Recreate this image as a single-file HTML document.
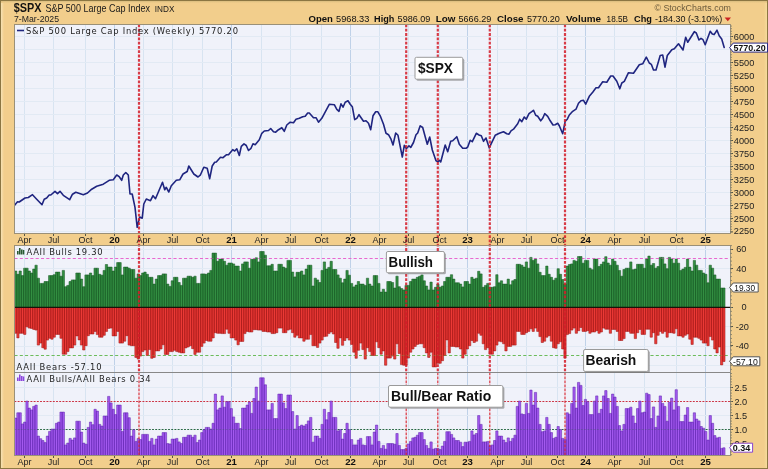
<!DOCTYPE html>
<html><head><meta charset="utf-8"><title>$SPX</title><style>html,body{margin:0;padding:0;background:#fff}body{width:768px;height:469px;overflow:hidden}</style></head><body>
<svg width="768" height="469" viewBox="0 0 768 469" style="display:block">
<defs>
<linearGradient id="bgl" x1="0" x2="1" y1="0" y2="0"><stop offset="0" stop-color="#f6e2b4"/><stop offset="1" stop-color="#f2ce8c"/></linearGradient>
<linearGradient id="bgr" x1="0" x2="1" y1="0" y2="0"><stop offset="0" stop-color="#f2ce8c"/><stop offset="1" stop-color="#f6dc9c"/></linearGradient>
<linearGradient id="bgt" x1="0" x2="0" y1="0" y2="1"><stop offset="0" stop-color="#d9bd7e"/><stop offset="1" stop-color="#f2ce8c"/></linearGradient>
<linearGradient id="plot" x1="0" x2="0" y1="0" y2="1"><stop offset="0" stop-color="#f4f4fc"/><stop offset="1" stop-color="#ecEEfa"/></linearGradient>
<filter id="sh" x="-10%" y="-10%" width="130%" height="140%"><feGaussianBlur stdDeviation="0.7"/></filter>
<clipPath id="c1"><rect x="14.5" y="24.5" width="716" height="209"/></clipPath>
<clipPath id="c2"><rect x="14.5" y="245.5" width="716" height="127"/></clipPath>
<clipPath id="c3"><rect x="14.5" y="372.5" width="716" height="83"/></clipPath>
</defs>
<rect x="0" y="0" width="768" height="469" fill="#f2ce8c"/>
<rect x="1" y="1" width="3" height="467" fill="url(#bgl)"/>
<rect x="764" y="1" width="3" height="467" fill="url(#bgr)"/>
<rect x="1" y="1" width="766" height="2" fill="url(#bgt)"/>
<rect x="0.5" y="0.5" width="767" height="468" fill="none" stroke="#8b7642" stroke-width="1"/>
<rect x="14.5" y="24.5" width="716.0" height="209.0" fill="#f0f2fa"/>
<rect x="14.5" y="245.5" width="716.0" height="210.0" fill="#f0f2fa"/>
<line x1="24.5" x2="24.5" y1="24.5" y2="233.5" stroke="#d8e4f1" stroke-width="1"/>
<line x1="53.5" x2="53.5" y1="24.5" y2="233.5" stroke="#d8e4f1" stroke-width="1"/>
<line x1="85.5" x2="85.5" y1="24.5" y2="233.5" stroke="#d8e4f1" stroke-width="1"/>
<line x1="114.5" x2="114.5" y1="24.5" y2="233.5" stroke="#bfd1e8" stroke-width="1"/>
<line x1="143.5" x2="143.5" y1="24.5" y2="233.5" stroke="#d8e4f1" stroke-width="1"/>
<line x1="172.5" x2="172.5" y1="24.5" y2="233.5" stroke="#d8e4f1" stroke-width="1"/>
<line x1="202.5" x2="202.5" y1="24.5" y2="233.5" stroke="#d8e4f1" stroke-width="1"/>
<line x1="231.5" x2="231.5" y1="24.5" y2="233.5" stroke="#bfd1e8" stroke-width="1"/>
<line x1="261.5" x2="261.5" y1="24.5" y2="233.5" stroke="#d8e4f1" stroke-width="1"/>
<line x1="290.5" x2="290.5" y1="24.5" y2="233.5" stroke="#d8e4f1" stroke-width="1"/>
<line x1="321.5" x2="321.5" y1="24.5" y2="233.5" stroke="#d8e4f1" stroke-width="1"/>
<line x1="350.5" x2="350.5" y1="24.5" y2="233.5" stroke="#bfd1e8" stroke-width="1"/>
<line x1="379.5" x2="379.5" y1="24.5" y2="233.5" stroke="#d8e4f1" stroke-width="1"/>
<line x1="408.5" x2="408.5" y1="24.5" y2="233.5" stroke="#d8e4f1" stroke-width="1"/>
<line x1="439.5" x2="439.5" y1="24.5" y2="233.5" stroke="#d8e4f1" stroke-width="1"/>
<line x1="467.5" x2="467.5" y1="24.5" y2="233.5" stroke="#bfd1e8" stroke-width="1"/>
<line x1="497.5" x2="497.5" y1="24.5" y2="233.5" stroke="#d8e4f1" stroke-width="1"/>
<line x1="526.5" x2="526.5" y1="24.5" y2="233.5" stroke="#d8e4f1" stroke-width="1"/>
<line x1="557.5" x2="557.5" y1="24.5" y2="233.5" stroke="#d8e4f1" stroke-width="1"/>
<line x1="585.5" x2="585.5" y1="24.5" y2="233.5" stroke="#bfd1e8" stroke-width="1"/>
<line x1="614.5" x2="614.5" y1="24.5" y2="233.5" stroke="#d8e4f1" stroke-width="1"/>
<line x1="644.5" x2="644.5" y1="24.5" y2="233.5" stroke="#d8e4f1" stroke-width="1"/>
<line x1="676.5" x2="676.5" y1="24.5" y2="233.5" stroke="#d8e4f1" stroke-width="1"/>
<line x1="705.5" x2="705.5" y1="24.5" y2="233.5" stroke="#bfd1e8" stroke-width="1"/>
<line x1="14.5" x2="730.5" y1="231.5" y2="231.5" stroke="#e2eaf4" stroke-width="1"/>
<line x1="14.5" x2="730.5" y1="218.5" y2="218.5" stroke="#e2eaf4" stroke-width="1"/>
<line x1="14.5" x2="730.5" y1="205.5" y2="205.5" stroke="#e2eaf4" stroke-width="1"/>
<line x1="14.5" x2="730.5" y1="192.5" y2="192.5" stroke="#e2eaf4" stroke-width="1"/>
<line x1="14.5" x2="730.5" y1="179.5" y2="179.5" stroke="#e2eaf4" stroke-width="1"/>
<line x1="14.5" x2="730.5" y1="166.5" y2="166.5" stroke="#e2eaf4" stroke-width="1"/>
<line x1="14.5" x2="730.5" y1="153.5" y2="153.5" stroke="#e2eaf4" stroke-width="1"/>
<line x1="14.5" x2="730.5" y1="140.5" y2="140.5" stroke="#e2eaf4" stroke-width="1"/>
<line x1="14.5" x2="730.5" y1="127.5" y2="127.5" stroke="#e2eaf4" stroke-width="1"/>
<line x1="14.5" x2="730.5" y1="114.5" y2="114.5" stroke="#e2eaf4" stroke-width="1"/>
<line x1="14.5" x2="730.5" y1="101.5" y2="101.5" stroke="#e2eaf4" stroke-width="1"/>
<line x1="14.5" x2="730.5" y1="88.5" y2="88.5" stroke="#e2eaf4" stroke-width="1"/>
<line x1="14.5" x2="730.5" y1="75.5" y2="75.5" stroke="#e2eaf4" stroke-width="1"/>
<line x1="14.5" x2="730.5" y1="62.5" y2="62.5" stroke="#e2eaf4" stroke-width="1"/>
<line x1="14.5" x2="730.5" y1="49.5" y2="49.5" stroke="#e2eaf4" stroke-width="1"/>
<line x1="14.5" x2="730.5" y1="36.5" y2="36.5" stroke="#e2eaf4" stroke-width="1"/>
<line x1="24.5" x2="24.5" y1="245.5" y2="372.5" stroke="#d8e4f1" stroke-width="1"/>
<line x1="53.5" x2="53.5" y1="245.5" y2="372.5" stroke="#d8e4f1" stroke-width="1"/>
<line x1="85.5" x2="85.5" y1="245.5" y2="372.5" stroke="#d8e4f1" stroke-width="1"/>
<line x1="114.5" x2="114.5" y1="245.5" y2="372.5" stroke="#bfd1e8" stroke-width="1"/>
<line x1="143.5" x2="143.5" y1="245.5" y2="372.5" stroke="#d8e4f1" stroke-width="1"/>
<line x1="172.5" x2="172.5" y1="245.5" y2="372.5" stroke="#d8e4f1" stroke-width="1"/>
<line x1="202.5" x2="202.5" y1="245.5" y2="372.5" stroke="#d8e4f1" stroke-width="1"/>
<line x1="231.5" x2="231.5" y1="245.5" y2="372.5" stroke="#bfd1e8" stroke-width="1"/>
<line x1="261.5" x2="261.5" y1="245.5" y2="372.5" stroke="#d8e4f1" stroke-width="1"/>
<line x1="290.5" x2="290.5" y1="245.5" y2="372.5" stroke="#d8e4f1" stroke-width="1"/>
<line x1="321.5" x2="321.5" y1="245.5" y2="372.5" stroke="#d8e4f1" stroke-width="1"/>
<line x1="350.5" x2="350.5" y1="245.5" y2="372.5" stroke="#bfd1e8" stroke-width="1"/>
<line x1="379.5" x2="379.5" y1="245.5" y2="372.5" stroke="#d8e4f1" stroke-width="1"/>
<line x1="408.5" x2="408.5" y1="245.5" y2="372.5" stroke="#d8e4f1" stroke-width="1"/>
<line x1="439.5" x2="439.5" y1="245.5" y2="372.5" stroke="#d8e4f1" stroke-width="1"/>
<line x1="467.5" x2="467.5" y1="245.5" y2="372.5" stroke="#bfd1e8" stroke-width="1"/>
<line x1="497.5" x2="497.5" y1="245.5" y2="372.5" stroke="#d8e4f1" stroke-width="1"/>
<line x1="526.5" x2="526.5" y1="245.5" y2="372.5" stroke="#d8e4f1" stroke-width="1"/>
<line x1="557.5" x2="557.5" y1="245.5" y2="372.5" stroke="#d8e4f1" stroke-width="1"/>
<line x1="585.5" x2="585.5" y1="245.5" y2="372.5" stroke="#bfd1e8" stroke-width="1"/>
<line x1="614.5" x2="614.5" y1="245.5" y2="372.5" stroke="#d8e4f1" stroke-width="1"/>
<line x1="644.5" x2="644.5" y1="245.5" y2="372.5" stroke="#d8e4f1" stroke-width="1"/>
<line x1="676.5" x2="676.5" y1="245.5" y2="372.5" stroke="#d8e4f1" stroke-width="1"/>
<line x1="705.5" x2="705.5" y1="245.5" y2="372.5" stroke="#bfd1e8" stroke-width="1"/>
<line x1="14.5" x2="730.5" y1="249.5" y2="249.5" stroke="#e2eaf4" stroke-width="1"/>
<line x1="14.5" x2="730.5" y1="268.5" y2="268.5" stroke="#e2eaf4" stroke-width="1"/>
<line x1="14.5" x2="730.5" y1="288.5" y2="288.5" stroke="#e2eaf4" stroke-width="1"/>
<line x1="14.5" x2="730.5" y1="326.5" y2="326.5" stroke="#e2eaf4" stroke-width="1"/>
<line x1="14.5" x2="730.5" y1="346.5" y2="346.5" stroke="#e2eaf4" stroke-width="1"/>
<line x1="14.5" x2="730.5" y1="365.5" y2="365.5" stroke="#e2eaf4" stroke-width="1"/>
<line x1="24.5" x2="24.5" y1="372.5" y2="455.5" stroke="#d8e4f1" stroke-width="1"/>
<line x1="53.5" x2="53.5" y1="372.5" y2="455.5" stroke="#d8e4f1" stroke-width="1"/>
<line x1="85.5" x2="85.5" y1="372.5" y2="455.5" stroke="#d8e4f1" stroke-width="1"/>
<line x1="114.5" x2="114.5" y1="372.5" y2="455.5" stroke="#bfd1e8" stroke-width="1"/>
<line x1="143.5" x2="143.5" y1="372.5" y2="455.5" stroke="#d8e4f1" stroke-width="1"/>
<line x1="172.5" x2="172.5" y1="372.5" y2="455.5" stroke="#d8e4f1" stroke-width="1"/>
<line x1="202.5" x2="202.5" y1="372.5" y2="455.5" stroke="#d8e4f1" stroke-width="1"/>
<line x1="231.5" x2="231.5" y1="372.5" y2="455.5" stroke="#bfd1e8" stroke-width="1"/>
<line x1="261.5" x2="261.5" y1="372.5" y2="455.5" stroke="#d8e4f1" stroke-width="1"/>
<line x1="290.5" x2="290.5" y1="372.5" y2="455.5" stroke="#d8e4f1" stroke-width="1"/>
<line x1="321.5" x2="321.5" y1="372.5" y2="455.5" stroke="#d8e4f1" stroke-width="1"/>
<line x1="350.5" x2="350.5" y1="372.5" y2="455.5" stroke="#bfd1e8" stroke-width="1"/>
<line x1="379.5" x2="379.5" y1="372.5" y2="455.5" stroke="#d8e4f1" stroke-width="1"/>
<line x1="408.5" x2="408.5" y1="372.5" y2="455.5" stroke="#d8e4f1" stroke-width="1"/>
<line x1="439.5" x2="439.5" y1="372.5" y2="455.5" stroke="#d8e4f1" stroke-width="1"/>
<line x1="467.5" x2="467.5" y1="372.5" y2="455.5" stroke="#bfd1e8" stroke-width="1"/>
<line x1="497.5" x2="497.5" y1="372.5" y2="455.5" stroke="#d8e4f1" stroke-width="1"/>
<line x1="526.5" x2="526.5" y1="372.5" y2="455.5" stroke="#d8e4f1" stroke-width="1"/>
<line x1="557.5" x2="557.5" y1="372.5" y2="455.5" stroke="#d8e4f1" stroke-width="1"/>
<line x1="585.5" x2="585.5" y1="372.5" y2="455.5" stroke="#bfd1e8" stroke-width="1"/>
<line x1="614.5" x2="614.5" y1="372.5" y2="455.5" stroke="#d8e4f1" stroke-width="1"/>
<line x1="644.5" x2="644.5" y1="372.5" y2="455.5" stroke="#d8e4f1" stroke-width="1"/>
<line x1="676.5" x2="676.5" y1="372.5" y2="455.5" stroke="#d8e4f1" stroke-width="1"/>
<line x1="705.5" x2="705.5" y1="372.5" y2="455.5" stroke="#bfd1e8" stroke-width="1"/>
<line x1="14.5" x2="730.5" y1="443.5" y2="443.5" stroke="#e2eaf4" stroke-width="1"/>
<line x1="14.5" x2="730.5" y1="415.5" y2="415.5" stroke="#e2eaf4" stroke-width="1"/>
<line x1="14.5" x2="730.5" y1="387.5" y2="387.5" stroke="#e2eaf4" stroke-width="1"/>
<line x1="14.5" x2="730.5" y1="258.5" y2="258.5" stroke="#e868d0" stroke-width="1" stroke-dasharray="3 2.3"/>
<line x1="14.5" x2="730.5" y1="355.5" y2="355.5" stroke="#6cbc5c" stroke-width="1" stroke-dasharray="3 2.3"/>
<line x1="14.5" x2="730.5" y1="401.5" y2="401.5" stroke="#cc3040" stroke-width="1" stroke-dasharray="1.8 1.4"/>
<line x1="14.5" x2="730.5" y1="429.5" y2="429.5" stroke="#2a6a44" stroke-width="1" stroke-dasharray="1.8 1.4"/>
<path d="M14.52 307.2V271.0h2.27V307.2M16.79 307.2V274.3h2.27V307.2M19.06 307.2V271.0h2.27V307.2M21.34 307.2V275.6h2.27V307.2M23.61 307.2V268.2h2.27V307.2M25.87 307.2V268.2h2.27V307.2M28.14 307.2V271.0h2.27V307.2M30.41 307.2V273.0h2.27V307.2M32.68 307.2V269.1h2.27V307.2M34.95 307.2V265.2h2.27V307.2M37.23 307.2V278.2h2.27V307.2M39.49 307.2V283.4h2.27V307.2M41.76 307.2V283.4h2.27V307.2M44.03 307.2V281.5h2.27V307.2M46.30 307.2V281.5h2.27V307.2M48.57 307.2V275.6h2.27V307.2M50.85 307.2V275.6h2.27V307.2M53.12 307.2V274.7h2.27V307.2M55.38 307.2V272.1h2.27V307.2M57.65 307.2V272.1h2.27V307.2M59.92 307.2V276.2h2.27V307.2M62.19 307.2V270.4h2.27V307.2M64.47 307.2V286.7h2.27V307.2M66.73 307.2V285.4h2.27V307.2M69.00 307.2V281.5h2.27V307.2M71.27 307.2V279.9h2.27V307.2M73.54 307.2V279.9h2.27V307.2M75.81 307.2V273.0h2.27V307.2M78.09 307.2V273.0h2.27V307.2M80.36 307.2V279.1h2.27V307.2M82.62 307.2V286.7h2.27V307.2M84.89 307.2V274.9h2.27V307.2M87.16 307.2V274.9h2.27V307.2M89.43 307.2V273.0h2.27V307.2M91.70 307.2V275.6h2.27V307.2M93.98 307.2V268.2h2.27V307.2M96.24 307.2V268.2h2.27V307.2M98.51 307.2V274.3h2.27V307.2M100.78 307.2V275.2h2.27V307.2M103.05 307.2V270.4h2.27V307.2M105.32 307.2V264.5h2.27V307.2M107.60 307.2V267.1h2.27V307.2M109.86 307.2V267.1h2.27V307.2M112.13 307.2V271.0h2.27V307.2M114.40 307.2V267.1h2.27V307.2M116.67 307.2V262.6h2.27V307.2M118.94 307.2V262.6h2.27V307.2M121.22 307.2V274.9h2.27V307.2M123.48 307.2V267.1h2.27V307.2M125.75 307.2V267.1h2.27V307.2M128.02 307.2V268.2h2.27V307.2M130.29 307.2V269.5h2.27V307.2M132.56 307.2V269.5h2.27V307.2M134.84 307.2V278.2h2.27V307.2M137.11 307.2V273.9h2.27V307.2M139.38 307.2V275.6h2.27V307.2M141.64 307.2V273.0h2.27V307.2M143.91 307.2V272.1h2.27V307.2M146.18 307.2V274.3h2.27V307.2M148.45 307.2V277.3h2.27V307.2M150.73 307.2V277.3h2.27V307.2M153.00 307.2V284.1h2.27V307.2M155.26 307.2V279.1h2.27V307.2M157.53 307.2V275.6h2.27V307.2M159.80 307.2V275.6h2.27V307.2M162.07 307.2V273.9h2.27V307.2M164.35 307.2V273.9h2.27V307.2M166.62 307.2V284.1h2.27V307.2M168.88 307.2V286.4h2.27V307.2M171.15 307.2V280.8h2.27V307.2M173.42 307.2V277.3h2.27V307.2M175.69 307.2V277.3h2.27V307.2M177.97 307.2V282.5h2.27V307.2M180.24 307.2V285.4h2.27V307.2M182.50 307.2V278.2h2.27V307.2M184.77 307.2V278.2h2.27V307.2M187.04 307.2V276.2h2.27V307.2M189.31 307.2V276.2h2.27V307.2M191.59 307.2V277.3h2.27V307.2M193.86 307.2V276.2h2.27V307.2M196.12 307.2V283.4h2.27V307.2M198.39 307.2V283.4h2.27V307.2M200.66 307.2V273.9h2.27V307.2M202.93 307.2V273.9h2.27V307.2M205.20 307.2V274.3h2.27V307.2M207.48 307.2V273.0h2.27V307.2M209.75 307.2V270.4h2.27V307.2M212.01 307.2V253.1h2.27V307.2M214.28 307.2V253.1h2.27V307.2M216.56 307.2V261.3h2.27V307.2M218.82 307.2V259.1h2.27V307.2M221.09 307.2V259.1h2.27V307.2M223.37 307.2V261.3h2.27V307.2M225.63 307.2V265.2h2.27V307.2M227.90 307.2V263.0h2.27V307.2M230.17 307.2V263.0h2.27V307.2M232.44 307.2V263.9h2.27V307.2M234.71 307.2V266.1h2.27V307.2M236.98 307.2V266.1h2.27V307.2M239.25 307.2V271.0h2.27V307.2M241.52 307.2V263.9h2.27V307.2M243.79 307.2V261.9h2.27V307.2M246.06 307.2V261.9h2.27V307.2M248.33 307.2V268.2h2.27V307.2M250.60 307.2V259.3h2.27V307.2M252.88 307.2V259.3h2.27V307.2M255.14 307.2V257.8h2.27V307.2M257.41 307.2V261.9h2.27V307.2M259.69 307.2V251.5h2.27V307.2M261.95 307.2V251.5h2.27V307.2M264.22 307.2V255.2h2.27V307.2M266.50 307.2V265.8h2.27V307.2M268.76 307.2V265.8h2.27V307.2M271.03 307.2V264.3h2.27V307.2M273.31 307.2V271.0h2.27V307.2M275.57 307.2V271.0h2.27V307.2M277.84 307.2V264.3h2.27V307.2M280.12 307.2V264.3h2.27V307.2M282.38 307.2V267.1h2.27V307.2M284.65 307.2V268.2h2.27V307.2M286.92 307.2V260.4h2.27V307.2M289.19 307.2V260.4h2.27V307.2M291.46 307.2V272.1h2.27V307.2M293.73 307.2V276.9h2.27V307.2M296.00 307.2V272.3h2.27V307.2M298.27 307.2V272.3h2.27V307.2M300.54 307.2V271.0h2.27V307.2M302.81 307.2V274.9h2.27V307.2M305.08 307.2V269.1h2.27V307.2M307.35 307.2V265.2h2.27V307.2M309.62 307.2V265.2h2.27V307.2M311.89 307.2V286.0h2.27V307.2M314.16 307.2V278.2h2.27V307.2M316.44 307.2V279.9h2.27V307.2M318.70 307.2V282.5h2.27V307.2M320.97 307.2V270.4h2.27V307.2M323.25 307.2V261.9h2.27V307.2M325.51 307.2V269.1h2.27V307.2M327.78 307.2V267.4h2.27V307.2M330.06 307.2V261.3h2.27V307.2M332.32 307.2V269.5h2.27V307.2M334.59 307.2V269.5h2.27V307.2M336.87 307.2V274.9h2.27V307.2M339.13 307.2V278.2h2.27V307.2M341.40 307.2V282.8h2.27V307.2M343.68 307.2V279.1h2.27V307.2M345.94 307.2V270.4h2.27V307.2M348.21 307.2V275.2h2.27V307.2M350.48 307.2V283.4h2.27V307.2M352.75 307.2V286.9h2.27V307.2M355.02 307.2V285.1h2.27V307.2M357.29 307.2V281.5h2.27V307.2M359.56 307.2V284.1h2.27V307.2M361.83 307.2V284.1h2.27V307.2M364.10 307.2V285.4h2.27V307.2M366.38 307.2V278.2h2.27V307.2M368.64 307.2V284.1h2.27V307.2M370.91 307.2V286.0h2.27V307.2M373.19 307.2V275.6h2.27V307.2M375.45 307.2V275.6h2.27V307.2M377.72 307.2V283.4h2.27V307.2M380.00 307.2V292.1h2.27V307.2M382.26 307.2V289.3h2.27V307.2M384.53 307.2V292.1h2.27V307.2M386.81 307.2V281.5h2.27V307.2M389.07 307.2V281.5h2.27V307.2M391.34 307.2V282.5h2.27V307.2M393.62 307.2V288.0h2.27V307.2M395.88 307.2V276.2h2.27V307.2M398.15 307.2V286.7h2.27V307.2M400.43 307.2V288.6h2.27V307.2M402.69 307.2V289.9h2.27V307.2M404.96 307.2V285.4h2.27V307.2M407.23 307.2V285.4h2.27V307.2M409.50 307.2V281.5h2.27V307.2M411.77 307.2V279.1h2.27V307.2M414.04 307.2V279.1h2.27V307.2M416.31 307.2V277.3h2.27V307.2M418.58 307.2V276.2h2.27V307.2M420.85 307.2V274.9h2.27V307.2M423.12 307.2V280.8h2.27V307.2M425.39 307.2V286.0h2.27V307.2M427.66 307.2V289.9h2.27V307.2M429.94 307.2V282.1h2.27V307.2M432.20 307.2V289.9h2.27V307.2M434.47 307.2V287.3h2.27V307.2M436.75 307.2V284.1h2.27V307.2M439.01 307.2V287.3h2.27V307.2M441.28 307.2V286.0h2.27V307.2M443.56 307.2V281.5h2.27V307.2M445.82 307.2V277.3h2.27V307.2M448.09 307.2V277.3h2.27V307.2M450.37 307.2V274.7h2.27V307.2M452.63 307.2V279.1h2.27V307.2M454.90 307.2V282.8h2.27V307.2M457.18 307.2V282.8h2.27V307.2M459.44 307.2V284.1h2.27V307.2M461.71 307.2V286.9h2.27V307.2M463.98 307.2V281.5h2.27V307.2M466.25 307.2V281.5h2.27V307.2M468.52 307.2V284.1h2.27V307.2M470.79 307.2V277.3h2.27V307.2M473.06 307.2V279.1h2.27V307.2M475.33 307.2V278.2h2.27V307.2M477.61 307.2V271.3h2.27V307.2M479.88 307.2V273.9h2.27V307.2M482.14 307.2V287.3h2.27V307.2M484.41 307.2V285.4h2.27V307.2M486.68 307.2V283.4h2.27V307.2M488.95 307.2V287.3h2.27V307.2M491.23 307.2V287.3h2.27V307.2M493.50 307.2V286.7h2.27V307.2M495.76 307.2V274.7h2.27V307.2M498.03 307.2V282.8h2.27V307.2M500.30 307.2V280.8h2.27V307.2M502.57 307.2V284.1h2.27V307.2M504.84 307.2V284.1h2.27V307.2M507.12 307.2V279.1h2.27V307.2M509.38 307.2V284.7h2.27V307.2M511.65 307.2V280.8h2.27V307.2M513.92 307.2V279.5h2.27V307.2M516.19 307.2V264.3h2.27V307.2M518.46 307.2V264.3h2.27V307.2M520.74 307.2V265.2h2.27V307.2M523.00 307.2V267.1h2.27V307.2M525.27 307.2V261.9h2.27V307.2M527.54 307.2V268.2h2.27V307.2M529.82 307.2V257.4h2.27V307.2M532.09 307.2V260.4h2.27V307.2M534.36 307.2V259.1h2.27V307.2M536.62 307.2V263.9h2.27V307.2M538.89 307.2V272.3h2.27V307.2M541.16 307.2V275.6h2.27V307.2M543.43 307.2V275.6h2.27V307.2M545.70 307.2V266.1h2.27V307.2M547.98 307.2V274.3h2.27V307.2M550.25 307.2V277.3h2.27V307.2M552.51 307.2V280.2h2.27V307.2M554.78 307.2V278.2h2.27V307.2M557.05 307.2V268.7h2.27V307.2M559.33 307.2V274.3h2.27V307.2M561.60 307.2V279.5h2.27V307.2M563.87 307.2V284.1h2.27V307.2M566.13 307.2V266.1h2.27V307.2M568.40 307.2V264.5h2.27V307.2M570.67 307.2V263.9h2.27V307.2M572.94 307.2V260.4h2.27V307.2M575.21 307.2V261.3h2.27V307.2M577.49 307.2V256.5h2.27V307.2M579.75 307.2V256.5h2.27V307.2M582.02 307.2V263.2h2.27V307.2M584.29 307.2V260.4h2.27V307.2M586.57 307.2V260.4h2.27V307.2M588.84 307.2V268.2h2.27V307.2M591.11 307.2V269.7h2.27V307.2M593.38 307.2V259.1h2.27V307.2M595.64 307.2V259.1h2.27V307.2M597.91 307.2V266.5h2.27V307.2M600.18 307.2V264.3h2.27V307.2M602.45 307.2V261.9h2.27V307.2M604.73 307.2V256.7h2.27V307.2M607.00 307.2V263.0h2.27V307.2M609.26 307.2V265.2h2.27V307.2M611.53 307.2V259.1h2.27V307.2M613.80 307.2V261.3h2.27V307.2M616.08 307.2V265.2h2.27V307.2M618.35 307.2V270.4h2.27V307.2M620.62 307.2V276.2h2.27V307.2M622.88 307.2V269.5h2.27V307.2M625.15 307.2V268.2h2.27V307.2M627.42 307.2V268.2h2.27V307.2M629.69 307.2V261.9h2.27V307.2M631.97 307.2V269.7h2.27V307.2M634.24 307.2V269.1h2.27V307.2M636.50 307.2V264.3h2.27V307.2M638.77 307.2V264.3h2.27V307.2M641.04 307.2V264.3h2.27V307.2M643.31 307.2V268.2h2.27V307.2M645.59 307.2V259.1h2.27V307.2M647.86 307.2V256.1h2.27V307.2M650.12 307.2V265.2h2.27V307.2M652.39 307.2V263.5h2.27V307.2M654.66 307.2V268.2h2.27V307.2M656.93 307.2V266.5h2.27V307.2M659.20 307.2V257.4h2.27V307.2M661.48 307.2V257.4h2.27V307.2M663.75 307.2V263.9h2.27V307.2M666.01 307.2V268.7h2.27V307.2M668.28 307.2V257.4h2.27V307.2M670.55 307.2V259.1h2.27V307.2M672.83 307.2V263.2h2.27V307.2M675.10 307.2V259.1h2.27V307.2M677.37 307.2V263.2h2.27V307.2M679.63 307.2V270.4h2.27V307.2M681.90 307.2V269.1h2.27V307.2M684.17 307.2V267.4h2.27V307.2M686.44 307.2V259.1h2.27V307.2M688.72 307.2V267.1h2.27V307.2M690.99 307.2V271.0h2.27V307.2M693.25 307.2V260.4h2.27V307.2M695.52 307.2V265.2h2.27V307.2M697.79 307.2V270.4h2.27V307.2M700.06 307.2V270.4h2.27V307.2M702.34 307.2V273.0h2.27V307.2M704.61 307.2V274.3h2.27V307.2M706.88 307.2V282.8h2.27V307.2M709.14 307.2V265.2h2.27V307.2M711.41 307.2V268.2h2.27V307.2M713.68 307.2V274.9h2.27V307.2M715.96 307.2V279.1h2.27V307.2M718.23 307.2V279.1h2.27V307.2M720.50 307.2V288.0h2.27V307.2M722.76 307.2V288.0h2.27V307.2" fill="#338f42" stroke="#185a24" stroke-width="0.55" clip-path="url(#c2)"/>
<path d="M14.52 307.6V333.3h2.27V307.6M16.79 307.6V337.9h2.27V307.6M19.06 307.6V333.3h2.27V307.6M21.34 307.6V333.3h2.27V307.6M23.61 307.6V334.4h2.27V307.6M25.87 307.6V326.8h2.27V307.6M28.14 307.6V328.1h2.27V307.6M30.41 307.6V328.4h2.27V307.6M32.68 307.6V329.4h2.27V307.6M34.95 307.6V330.1h2.27V307.6M37.23 307.6V345.1h2.27V307.6M39.49 307.6V343.1h2.27V307.6M41.76 307.6V347.7h2.27V307.6M44.03 307.6V349.2h2.27V307.6M46.30 307.6V340.1h2.27V307.6M48.57 307.6V338.3h2.27V307.6M50.85 307.6V339.2h2.27V307.6M53.12 307.6V337.2h2.27V307.6M55.38 307.6V334.4h2.27V307.6M57.65 307.6V334.4h2.27V307.6M59.92 307.6V338.3h2.27V307.6M62.19 307.6V354.2h2.27V307.6M64.47 307.6V354.2h2.27V307.6M66.73 307.6V351.6h2.27V307.6M69.00 307.6V347.9h2.27V307.6M71.27 307.6V347.9h2.27V307.6M73.54 307.6V345.1h2.27V307.6M75.81 307.6V335.9h2.27V307.6M78.09 307.6V339.9h2.27V307.6M80.36 307.6V345.1h2.27V307.6M82.62 307.6V350.0h2.27V307.6M84.89 307.6V345.7h2.27V307.6M87.16 307.6V335.7h2.27V307.6M89.43 307.6V334.0h2.27V307.6M91.70 307.6V334.0h2.27V307.6M93.98 307.6V331.4h2.27V307.6M96.24 307.6V334.6h2.27V307.6M98.51 307.6V337.2h2.27V307.6M100.78 307.6V337.2h2.27V307.6M103.05 307.6V335.3h2.27V307.6M105.32 307.6V331.4h2.27V307.6M107.60 307.6V328.4h2.27V307.6M109.86 307.6V328.1h2.27V307.6M112.13 307.6V335.9h2.27V307.6M114.40 307.6V335.9h2.27V307.6M116.67 307.6V331.4h2.27V307.6M118.94 307.6V343.1h2.27V307.6M121.22 307.6V343.1h2.27V307.6M123.48 307.6V341.2h2.27V307.6M125.75 307.6V335.7h2.27V307.6M128.02 307.6V345.1h2.27V307.6M130.29 307.6V345.7h2.27V307.6M132.56 307.6V345.7h2.27V307.6M134.84 307.6V357.4h2.27V307.6M137.11 307.6V359.1h2.27V307.6M139.38 307.6V356.1h2.27V307.6M141.64 307.6V351.6h2.27V307.6M143.91 307.6V350.0h2.27V307.6M146.18 307.6V355.5h2.27V307.6M148.45 307.6V349.6h2.27V307.6M150.73 307.6V358.3h2.27V307.6M153.00 307.6V357.4h2.27V307.6M155.26 307.6V350.9h2.27V307.6M157.53 307.6V350.9h2.27V307.6M159.80 307.6V349.0h2.27V307.6M162.07 307.6V344.8h2.27V307.6M164.35 307.6V354.4h2.27V307.6M166.62 307.6V354.4h2.27V307.6M168.88 307.6V351.6h2.27V307.6M171.15 307.6V351.6h2.27V307.6M173.42 307.6V350.3h2.27V307.6M175.69 307.6V351.6h2.27V307.6M177.97 307.6V352.2h2.27V307.6M180.24 307.6V352.9h2.27V307.6M182.50 307.6V352.9h2.27V307.6M184.77 307.6V347.9h2.27V307.6M187.04 307.6V347.0h2.27V307.6M189.31 307.6V345.7h2.27V307.6M191.59 307.6V348.7h2.27V307.6M193.86 307.6V354.4h2.27V307.6M196.12 307.6V352.2h2.27V307.6M198.39 307.6V352.2h2.27V307.6M200.66 307.6V346.4h2.27V307.6M202.93 307.6V343.1h2.27V307.6M205.20 307.6V340.5h2.27V307.6M207.48 307.6V341.2h2.27V307.6M209.75 307.6V341.2h2.27V307.6M212.01 307.6V337.9h2.27V307.6M214.28 307.6V332.7h2.27V307.6M216.56 307.6V333.3h2.27V307.6M218.82 307.6V333.3h2.27V307.6M221.09 307.6V333.6h2.27V307.6M223.37 307.6V333.6h2.27V307.6M225.63 307.6V329.2h2.27V307.6M227.90 307.6V333.3h2.27V307.6M230.17 307.6V337.9h2.27V307.6M232.44 307.6V337.9h2.27V307.6M234.71 307.6V340.1h2.27V307.6M236.98 307.6V344.8h2.27V307.6M239.25 307.6V341.4h2.27V307.6M241.52 307.6V341.4h2.27V307.6M243.79 307.6V333.6h2.27V307.6M246.06 307.6V331.4h2.27V307.6M248.33 307.6V332.0h2.27V307.6M250.60 307.6V332.0h2.27V307.6M252.88 307.6V329.7h2.27V307.6M255.14 307.6V329.7h2.27V307.6M257.41 307.6V330.1h2.27V307.6M259.69 307.6V330.1h2.27V307.6M261.95 307.6V331.4h2.27V307.6M264.22 307.6V331.4h2.27V307.6M266.50 307.6V332.0h2.27V307.6M268.76 307.6V332.0h2.27V307.6M271.03 307.6V333.6h2.27V307.6M273.31 307.6V333.6h2.27V307.6M275.57 307.6V332.7h2.27V307.6M277.84 307.6V328.1h2.27V307.6M280.12 307.6V328.1h2.27V307.6M282.38 307.6V332.7h2.27V307.6M284.65 307.6V332.7h2.27V307.6M286.92 307.6V330.1h2.27V307.6M289.19 307.6V329.2h2.27V307.6M291.46 307.6V332.7h2.27V307.6M293.73 307.6V337.2h2.27V307.6M296.00 307.6V335.3h2.27V307.6M298.27 307.6V337.9h2.27V307.6M300.54 307.6V337.9h2.27V307.6M302.81 307.6V341.2h2.27V307.6M305.08 307.6V339.2h2.27V307.6M307.35 307.6V339.2h2.27V307.6M309.62 307.6V334.6h2.27V307.6M311.89 307.6V345.7h2.27V307.6M314.16 307.6V345.7h2.27V307.6M316.44 307.6V347.4h2.27V307.6M318.70 307.6V343.1h2.27V307.6M320.97 307.6V340.1h2.27V307.6M323.25 307.6V336.6h2.27V307.6M325.51 307.6V336.2h2.27V307.6M327.78 307.6V333.6h2.27V307.6M330.06 307.6V332.0h2.27V307.6M332.32 307.6V334.0h2.27V307.6M334.59 307.6V342.5h2.27V307.6M336.87 307.6V348.3h2.27V307.6M339.13 307.6V337.9h2.27V307.6M341.40 307.6V345.3h2.27V307.6M343.68 307.6V340.5h2.27V307.6M345.94 307.6V337.9h2.27V307.6M348.21 307.6V340.1h2.27V307.6M350.48 307.6V344.4h2.27V307.6M352.75 307.6V352.2h2.27V307.6M355.02 307.6V358.3h2.27V307.6M357.29 307.6V350.3h2.27V307.6M359.56 307.6V343.1h2.27V307.6M361.83 307.6V349.6h2.27V307.6M364.10 307.6V359.1h2.27V307.6M366.38 307.6V347.7h2.27V307.6M368.64 307.6V351.6h2.27V307.6M370.91 307.6V355.5h2.27V307.6M373.19 307.6V355.5h2.27V307.6M375.45 307.6V341.8h2.27V307.6M377.72 307.6V347.7h2.27V307.6M380.00 307.6V354.2h2.27V307.6M382.26 307.6V350.9h2.27V307.6M384.53 307.6V365.2h2.27V307.6M386.81 307.6V358.1h2.27V307.6M389.07 307.6V358.1h2.27V307.6M391.34 307.6V356.1h2.27V307.6M393.62 307.6V359.1h2.27V307.6M395.88 307.6V343.8h2.27V307.6M398.15 307.6V353.5h2.27V307.6M400.43 307.6V364.6h2.27V307.6M402.69 307.6V365.2h2.27V307.6M404.96 307.6V365.2h2.27V307.6M407.23 307.6V358.1h2.27V307.6M409.50 307.6V352.2h2.27V307.6M411.77 307.6V349.0h2.27V307.6M414.04 307.6V346.4h2.27V307.6M416.31 307.6V344.4h2.27V307.6M418.58 307.6V343.8h2.27V307.6M420.85 307.6V343.8h2.27V307.6M423.12 307.6V347.7h2.27V307.6M425.39 307.6V352.9h2.27V307.6M427.66 307.6V357.4h2.27V307.6M429.94 307.6V352.2h2.27V307.6M432.20 307.6V366.9h2.27V307.6M434.47 307.6V366.9h2.27V307.6M436.75 307.6V363.3h2.27V307.6M439.01 307.6V363.3h2.27V307.6M441.28 307.6V360.7h2.27V307.6M443.56 307.6V355.5h2.27V307.6M445.82 307.6V339.9h2.27V307.6M448.09 307.6V352.9h2.27V307.6M450.37 307.6V346.4h2.27V307.6M452.63 307.6V346.4h2.27V307.6M454.90 307.6V347.0h2.27V307.6M457.18 307.6V347.0h2.27V307.6M459.44 307.6V349.0h2.27V307.6M461.71 307.6V358.1h2.27V307.6M463.98 307.6V354.2h2.27V307.6M466.25 307.6V349.0h2.27V307.6M468.52 307.6V345.7h2.27V307.6M470.79 307.6V340.5h2.27V307.6M473.06 307.6V342.5h2.27V307.6M475.33 307.6V341.2h2.27V307.6M477.61 307.6V333.3h2.27V307.6M479.88 307.6V335.3h2.27V307.6M482.14 307.6V343.8h2.27V307.6M484.41 307.6V349.6h2.27V307.6M486.68 307.6V347.7h2.27V307.6M488.95 307.6V354.2h2.27V307.6M491.23 307.6V354.2h2.27V307.6M493.50 307.6V350.9h2.27V307.6M495.76 307.6V345.1h2.27V307.6M498.03 307.6V341.2h2.27V307.6M500.30 307.6V341.8h2.27V307.6M502.57 307.6V343.8h2.27V307.6M504.84 307.6V350.9h2.27V307.6M507.12 307.6V346.4h2.27V307.6M509.38 307.6V346.4h2.27V307.6M511.65 307.6V345.1h2.27V307.6M513.92 307.6V345.1h2.27V307.6M516.19 307.6V331.4h2.27V307.6M518.46 307.6V331.4h2.27V307.6M520.74 307.6V334.4h2.27V307.6M523.00 307.6V334.4h2.27V307.6M525.27 307.6V332.7h2.27V307.6M527.54 307.6V331.4h2.27V307.6M529.82 307.6V328.8h2.27V307.6M532.09 307.6V331.4h2.27V307.6M534.36 307.6V328.1h2.27V307.6M536.62 307.6V331.4h2.27V307.6M538.89 307.6V336.6h2.27V307.6M541.16 307.6V342.5h2.27V307.6M543.43 307.6V341.2h2.27V307.6M545.70 307.6V337.2h2.27V307.6M547.98 307.6V335.7h2.27V307.6M550.25 307.6V341.2h2.27V307.6M552.51 307.6V347.7h2.27V307.6M554.78 307.6V348.3h2.27V307.6M557.05 307.6V343.8h2.27V307.6M559.33 307.6V341.8h2.27V307.6M561.60 307.6V349.0h2.27V307.6M563.87 307.6V358.1h2.27V307.6M566.13 307.6V334.6h2.27V307.6M568.40 307.6V333.6h2.27V307.6M570.67 307.6V330.1h2.27V307.6M572.94 307.6V328.1h2.27V307.6M575.21 307.6V333.3h2.27V307.6M577.49 307.6V330.7h2.27V307.6M579.75 307.6V327.5h2.27V307.6M582.02 307.6V331.4h2.27V307.6M584.29 307.6V331.4h2.27V307.6M586.57 307.6V330.7h2.27V307.6M588.84 307.6V333.3h2.27V307.6M591.11 307.6V332.0h2.27V307.6M593.38 307.6V332.0h2.27V307.6M595.64 307.6V330.7h2.27V307.6M597.91 307.6V333.3h2.27V307.6M600.18 307.6V332.0h2.27V307.6M602.45 307.6V328.1h2.27V307.6M604.73 307.6V329.2h2.27V307.6M607.00 307.6V329.2h2.27V307.6M609.26 307.6V333.3h2.27V307.6M611.53 307.6V329.4h2.27V307.6M613.80 307.6V329.4h2.27V307.6M616.08 307.6V331.4h2.27V307.6M618.35 307.6V340.5h2.27V307.6M620.62 307.6V340.5h2.27V307.6M622.88 307.6V338.6h2.27V307.6M625.15 307.6V331.4h2.27V307.6M627.42 307.6V331.4h2.27V307.6M629.69 307.6V333.3h2.27V307.6M631.97 307.6V333.3h2.27V307.6M634.24 307.6V338.6h2.27V307.6M636.50 307.6V332.7h2.27V307.6M638.77 307.6V329.4h2.27V307.6M641.04 307.6V334.4h2.27V307.6M643.31 307.6V334.4h2.27V307.6M645.59 307.6V329.2h2.27V307.6M647.86 307.6V329.2h2.27V307.6M650.12 307.6V337.2h2.27V307.6M652.39 307.6V332.7h2.27V307.6M654.66 307.6V343.8h2.27V307.6M656.93 307.6V335.3h2.27V307.6M659.20 307.6V331.4h2.27V307.6M661.48 307.6V333.3h2.27V307.6M663.75 307.6V331.4h2.27V307.6M666.01 307.6V337.2h2.27V307.6M668.28 307.6V332.7h2.27V307.6M670.55 307.6V332.7h2.27V307.6M672.83 307.6V333.3h2.27V307.6M675.10 307.6V328.8h2.27V307.6M677.37 307.6V335.9h2.27V307.6M679.63 307.6V335.9h2.27V307.6M681.90 307.6V337.2h2.27V307.6M684.17 307.6V335.3h2.27V307.6M686.44 307.6V334.0h2.27V307.6M688.72 307.6V339.2h2.27V307.6M690.99 307.6V344.4h2.27V307.6M693.25 307.6V337.2h2.27V307.6M695.52 307.6V337.2h2.27V307.6M697.79 307.6V338.3h2.27V307.6M700.06 307.6V340.1h2.27V307.6M702.34 307.6V343.1h2.27V307.6M704.61 307.6V343.1h2.27V307.6M706.88 307.6V345.7h2.27V307.6M709.14 307.6V336.6h2.27V307.6M711.41 307.6V340.1h2.27V307.6M713.68 307.6V349.0h2.27V307.6M715.96 307.6V352.9h2.27V307.6M718.23 307.6V347.0h2.27V307.6M720.50 307.6V364.9h2.27V307.6M722.76 307.6V361.5h2.27V307.6" fill="#ec3a36" stroke="#a01818" stroke-width="0.55" clip-path="url(#c2)"/>
<path d="M14.52 456V418.1h2.27V456M16.79 456V412.8h2.27V456M19.06 456V412.8h2.27V456M21.34 456V423.9h2.27V456M23.61 456V422.1h2.27V456M25.87 456V401.1h2.27V456M28.14 456V408.1h2.27V456M30.41 456V409.9h2.27V456M32.68 456V406.4h2.27V456M34.95 456V405.1h2.27V456M37.23 456V436.1h2.27V456M39.49 456V438.7h2.27V456M41.76 456V440.5h2.27V456M44.03 456V442.6h2.27V456M46.30 456V436.1h2.27V456M48.57 456V431.4h2.27V456M50.85 456V429.1h2.27V456M53.12 456V429.1h2.27V456M55.38 456V423.3h2.27V456M57.65 456V422.1h2.27V456M59.92 456V412.1h2.27V456M62.19 456V412.1h2.27V456M64.47 456V444.9h2.27V456M66.73 456V443.1h2.27V456M69.00 456V438.4h2.27V456M71.27 456V440.1h2.27V456M73.54 456V437.9h2.27V456M75.81 456V421.2h2.27V456M78.09 456V421.2h2.27V456M80.36 456V432.1h2.27V456M82.62 456V443.1h2.27V456M84.89 456V444.3h2.27V456M87.16 456V427.4h2.27V456M89.43 456V422.1h2.27V456M91.70 456V424.7h2.27V456M93.98 456V409.3h2.27V456M96.24 456V411.1h2.27V456M98.51 456V424.4h2.27V456M100.78 456V426.1h2.27V456M103.05 456V416.0h2.27V456M105.32 456V416.0h2.27V456M107.60 456V396.4h2.27V456M109.86 456V402.9h2.27V456M112.13 456V409.3h2.27V456M114.40 456V414.6h2.27V456M116.67 456V405.1h2.27V456M118.94 456V405.1h2.27V456M121.22 456V431.4h2.27V456M123.48 456V412.8h2.27V456M125.75 456V412.8h2.27V456M128.02 456V417.7h2.27V456M130.29 456V436.1h2.27V456M132.56 456V429.6h2.27V456M134.84 456V441.4h2.27V456M137.11 456V438.4h2.27V456M139.38 456V439.6h2.27V456M141.64 456V434.4h2.27V456M143.91 456V434.4h2.27V456M146.18 456V434.4h2.27V456M148.45 456V441.4h2.27V456M150.73 456V438.4h2.27V456M153.00 456V444.9h2.27V456M155.26 456V439.1h2.27V456M157.53 456V436.1h2.27V456M159.80 456V436.1h2.27V456M162.07 456V432.6h2.27V456M164.35 456V432.6h2.27V456M166.62 456V443.6h2.27V456M168.88 456V444.0h2.27V456M171.15 456V439.1h2.27V456M173.42 456V439.1h2.27V456M175.69 456V438.4h2.27V456M177.97 456V441.9h2.27V456M180.24 456V443.6h2.27V456M182.50 456V437.3h2.27V456M184.77 456V437.3h2.27V456M187.04 456V435.2h2.27V456M189.31 456V435.2h2.27V456M191.59 456V437.3h2.27V456M193.86 456V435.2h2.27V456M196.12 456V442.6h2.27V456M198.39 456V440.1h2.27V456M200.66 456V432.6h2.27V456M202.93 456V429.6h2.27V456M205.20 456V427.4h2.27V456M207.48 456V427.4h2.27V456M209.75 456V429.1h2.27V456M212.01 456V423.3h2.27V456M214.28 456V394.1h2.27V456M216.56 456V409.9h2.27V456M218.82 456V408.1h2.27V456M221.09 456V395.9h2.27V456M223.37 456V407.2h2.27V456M225.63 456V401.6h2.27V456M227.90 456V401.6h2.27V456M230.17 456V408.6h2.27V456M232.44 456V416.9h2.27V456M234.71 456V423.3h2.27V456M236.98 456V423.3h2.27V456M239.25 456V428.6h2.27V456M241.52 456V408.1h2.27V456M243.79 456V408.1h2.27V456M246.06 456V405.1h2.27V456M248.33 456V402.0h2.27V456M250.60 456V413.4h2.27V456M252.88 456V398.5h2.27V456M255.14 456V387.1h2.27V456M257.41 456V401.1h2.27V456M259.69 456V377.8h2.27V456M261.95 456V377.8h2.27V456M264.22 456V384.8h2.27V456M266.50 456V409.9h2.27V456M268.76 456V409.9h2.27V456M271.03 456V403.4h2.27V456M273.31 456V418.6h2.27V456M275.57 456V418.6h2.27V456M277.84 456V394.1h2.27V456M280.12 456V394.1h2.27V456M282.38 456V402.9h2.27V456M284.65 456V408.6h2.27V456M286.92 456V395.0h2.27V456M289.19 456V395.0h2.27V456M291.46 456V411.6h2.27V456M293.73 456V429.1h2.27V456M296.00 456V415.6h2.27V456M298.27 456V426.5h2.27V456M300.54 456V425.1h2.27V456M302.81 456V426.1h2.27V456M305.08 456V424.4h2.27V456M307.35 456V420.9h2.27V456M309.62 456V417.4h2.27V456M311.89 456V442.2h2.27V456M314.16 456V436.1h2.27V456M316.44 456V436.1h2.27V456M318.70 456V438.4h2.27V456M320.97 456V424.4h2.27V456M323.25 456V409.3h2.27V456M325.51 456V419.8h2.27V456M327.78 456V412.5h2.27V456M330.06 456V401.1h2.27V456M332.32 456V417.4h2.27V456M334.59 456V417.4h2.27V456M336.87 456V430.9h2.27V456M339.13 456V429.6h2.27V456M341.40 456V439.1h2.27V456M343.68 456V433.5h2.27V456M345.94 456V423.3h2.27V456M348.21 456V429.6h2.27V456M350.48 456V439.6h2.27V456M352.75 456V444.9h2.27V456M355.02 456V444.9h2.27V456M357.29 456V440.1h2.27V456M359.56 456V438.4h2.27V456M361.83 456V444.9h2.27V456M364.10 456V445.4h2.27V456M366.38 456V436.6h2.27V456M368.64 456V436.6h2.27V456M370.91 456V444.9h2.27V456M373.19 456V432.1h2.27V456M375.45 456V425.1h2.27V456M377.72 456V441.4h2.27V456M380.00 456V448.4h2.27V456M382.26 456V445.4h2.27V456M384.53 456V449.2h2.27V456M386.81 456V443.6h2.27V456M389.07 456V443.6h2.27V456M391.34 456V443.6h2.27V456M393.62 456V444.3h2.27V456M395.88 456V433.5h2.27V456M398.15 456V445.4h2.27V456M400.43 456V449.6h2.27V456M402.69 456V449.6h2.27V456M404.96 456V448.4h2.27V456M407.23 456V444.0h2.27V456M409.50 456V441.4h2.27V456M411.77 456V437.9h2.27V456M414.04 456V437.3h2.27V456M416.31 456V435.2h2.27V456M418.58 456V432.6h2.27V456M420.85 456V432.6h2.27V456M423.12 456V439.6h2.27V456M425.39 456V445.4h2.27V456M427.66 456V448.4h2.27V456M429.94 456V441.9h2.27V456M432.20 456V449.2h2.27V456M434.47 456V448.4h2.27V456M436.75 456V448.4h2.27V456M439.01 456V449.6h2.27V456M441.28 456V446.1h2.27V456M443.56 456V441.4h2.27V456M445.82 456V431.7h2.27V456M448.09 456V431.7h2.27V456M450.37 456V434.4h2.27V456M452.63 456V437.9h2.27V456M454.90 456V440.5h2.27V456M457.18 456V440.5h2.27V456M459.44 456V442.2h2.27V456M461.71 456V446.6h2.27V456M463.98 456V442.2h2.27V456M466.25 456V442.2h2.27V456M468.52 456V441.4h2.27V456M470.79 456V430.9h2.27V456M473.06 456V434.9h2.27V456M475.33 456V433.5h2.27V456M477.61 456V415.6h2.27V456M479.88 456V424.4h2.27V456M482.14 456V441.9h2.27V456M484.41 456V441.9h2.27V456M486.68 456V441.4h2.27V456M488.95 456V445.7h2.27V456M491.23 456V444.9h2.27V456M493.50 456V440.5h2.27V456M495.76 456V430.9h2.27V456M498.03 456V436.1h2.27V456M500.30 456V436.1h2.27V456M502.57 456V440.1h2.27V456M504.84 456V442.6h2.27V456M507.12 456V437.9h2.27V456M509.38 456V441.4h2.27V456M511.65 456V438.4h2.27V456M513.92 456V435.2h2.27V456M516.19 456V406.4h2.27V456M518.46 456V401.1h2.27V456M520.74 456V413.9h2.27V456M523.00 456V414.6h2.27V456M525.27 456V403.4h2.27V456M527.54 456V413.4h2.27V456M529.82 456V390.1h2.27V456M532.09 456V405.1h2.27V456M534.36 456V392.4h2.27V456M536.62 456V408.1h2.27V456M538.89 456V424.4h2.27V456M541.16 456V431.7h2.27V456M543.43 456V430.9h2.27V456M545.70 456V417.4h2.27V456M547.98 456V424.4h2.27V456M550.25 456V432.6h2.27V456M552.51 456V438.4h2.27V456M554.78 456V437.3h2.27V456M557.05 456V426.5h2.27V456M559.33 456V429.6h2.27V456M561.60 456V438.4h2.27V456M563.87 456V439.6h2.27V456M566.13 456V412.8h2.27V456M568.40 456V414.2h2.27V456M570.67 456V403.4h2.27V456M572.94 456V387.1h2.27V456M575.21 456V408.1h2.27V456M577.49 456V382.4h2.27V456M579.75 456V385.4h2.27V456M582.02 456V405.5h2.27V456M584.29 456V399.4h2.27V456M586.57 456V401.6h2.27V456M588.84 456V414.6h2.27V456M591.11 456V414.6h2.27V456M593.38 456V401.1h2.27V456M595.64 456V395.9h2.27V456M597.91 456V413.4h2.27V456M600.18 456V409.3h2.27V456M602.45 456V395.9h2.27V456M604.73 456V390.6h2.27V456M607.00 456V398.5h2.27V456M609.26 456V413.4h2.27V456M611.53 456V394.1h2.27V456M613.80 456V397.1h2.27V456M616.08 456V406.4h2.27V456M618.35 456V425.6h2.27V456M620.62 456V430.9h2.27V456M622.88 456V424.4h2.27V456M625.15 456V408.6h2.27V456M627.42 456V408.6h2.27V456M629.69 456V407.2h2.27V456M631.97 456V416.0h2.27V456M634.24 456V423.3h2.27V456M636.50 456V408.6h2.27V456M638.77 456V401.1h2.27V456M641.04 456V412.8h2.27V456M643.31 456V412.1h2.27V456M645.59 456V393.2h2.27V456M647.86 456V394.6h2.27V456M650.12 456V418.6h2.27V456M652.39 456V406.9h2.27V456M654.66 456V427.4h2.27V456M656.93 456V416.0h2.27V456M659.20 456V395.9h2.27V456M661.48 456V403.4h2.27V456M663.75 456V406.4h2.27V456M666.01 456V421.2h2.27V456M668.28 456V402.3h2.27V456M670.55 456V398.1h2.27V456M672.83 456V409.9h2.27V456M675.10 456V389.7h2.27V456M677.37 456V406.4h2.27V456M679.63 456V421.6h2.27V456M681.90 456V421.6h2.27V456M684.17 456V415.1h2.27V456M686.44 456V407.6h2.27V456M688.72 456V422.1h2.27V456M690.99 456V422.1h2.27V456M693.25 456V412.8h2.27V456M695.52 456V419.1h2.27V456M697.79 456V420.9h2.27V456M700.06 456V426.5h2.27V456M702.34 456V428.2h2.27V456M704.61 456V431.4h2.27V456M706.88 456V440.1h2.27V456M709.14 456V415.6h2.27V456M711.41 456V423.3h2.27V456M713.68 456V435.6h2.27V456M715.96 456V437.9h2.27V456M718.23 456V437.3h2.27V456M720.50 456V448.4h2.27V456M722.76 456V447.8h2.27V456" fill="#a45af0" stroke="#6226b0" stroke-width="0.55" clip-path="url(#c3)"/>
<line x1="14.5" x2="730.5" y1="258.5" y2="258.5" stroke="#e868d0" stroke-width="1" stroke-dasharray="3 2.3" opacity="0.3"/>
<line x1="14.5" x2="730.5" y1="355.5" y2="355.5" stroke="#6cbc5c" stroke-width="1" stroke-dasharray="3 2.3" opacity="0.3"/>
<line x1="14.5" x2="730.5" y1="401.5" y2="401.5" stroke="#cc3040" stroke-width="1" stroke-dasharray="1.8 1.4" opacity="0.3"/>
<line x1="14.5" x2="730.5" y1="429.5" y2="429.5" stroke="#2a6a44" stroke-width="1" stroke-dasharray="1.8 1.4" opacity="0.3"/>
<line x1="14.5" x2="730.5" y1="307.4" y2="307.4" stroke="#1c1208" stroke-width="1.1"/>
<path d="M14.2 205.8 L17.5 201.7 L19.2 202.0 L25.0 198.0 L28.3 197.5 L32.5 194.7 L36.7 199.2 L42.0 204.7 L44.2 199.2 L46.7 198.0 L49.2 195.0 L50.8 195.0 L55.0 191.3 L57.5 193.7 L60.0 191.3 L63.3 195.3 L69.7 199.7 L72.5 194.2 L75.8 192.2 L83.3 194.7 L87.5 193.0 L91.7 189.2 L96.7 186.3 L103.3 184.2 L109.2 180.3 L113.3 179.7 L116.7 175.0 L119.2 176.7 L121.7 180.3 L123.3 175.0 L125.8 172.5 L128.3 175.0 L130.0 194.0 L132.2 194.0 L135.0 207.3 L137.2 227.3 L139.7 217.0 L142.2 218.2 L143.8 204.0 L146.3 199.0 L150.5 200.7 L153.0 195.7 L155.5 198.7 L162.5 182.3 L164.7 189.8 L166.3 187.3 L168.8 192.0 L171.3 185.7 L176.3 180.3 L179.7 179.8 L183.0 174.0 L187.2 171.5 L188.8 166.0 L193.8 174.0 L198.0 177.0 L200.5 174.8 L203.8 167.3 L207.2 168.2 L209.7 178.7 L212.2 166.0 L214.7 162.3 L216.3 162.0 L220.5 157.3 L223.0 157.7 L226.3 154.8 L228.5 154.7 L232.7 149.7 L234.7 151.0 L236.8 148.8 L239.3 155.5 L241.3 146.3 L244.0 143.8 L246.3 145.5 L248.5 150.5 L251.0 148.3 L253.0 143.8 L255.2 144.7 L259.3 139.7 L261.8 133.3 L264.3 131.0 L268.5 130.5 L270.7 128.5 L273.5 131.7 L275.7 132.2 L278.5 129.7 L281.8 127.7 L284.3 131.3 L286.8 125.0 L290.2 122.2 L293.5 122.7 L296.0 119.3 L299.3 118.3 L302.7 116.7 L305.2 116.3 L307.7 113.0 L309.3 113.0 L313.5 117.7 L316.0 117.7 L318.5 122.2 L321.8 118.3 L329.3 104.3 L334.3 104.7 L336.8 109.3 L339.0 111.3 L341.0 103.8 L343.0 107.2 L345.2 102.2 L348.0 100.8 L350.2 104.2 L352.3 106.7 L354.7 119.7 L356.8 118.3 L359.0 114.7 L363.5 121.3 L366.0 120.8 L368.5 123.3 L370.7 129.7 L373.0 115.8 L375.7 111.7 L377.7 111.7 L380.2 115.8 L383.5 124.2 L386.0 133.3 L388.5 134.7 L391.0 139.2 L393.0 145.0 L395.7 133.0 L398.0 135.3 L402.3 157.0 L404.3 145.3 L406.3 148.7 L409.0 145.8 L410.7 147.5 L413.5 142.5 L416.0 134.7 L417.7 133.0 L420.2 125.8 L422.7 127.5 L425.2 136.7 L427.3 144.2 L429.7 137.0 L432.3 150.0 L436.0 160.8 L438.0 161.7 L439.3 160.3 L440.7 162.0 L445.2 145.0 L447.7 151.7 L450.7 141.3 L452.7 140.8 L456.8 136.7 L459.3 144.2 L462.7 148.3 L466.0 148.3 L467.7 147.0 L470.2 140.3 L472.3 141.7 L476.3 133.3 L479.0 135.0 L481.3 135.8 L483.5 141.3 L486.0 138.0 L489.3 148.0 L491.0 144.2 L495.2 135.3 L499.3 133.3 L503.5 131.7 L506.8 133.7 L509.0 134.2 L511.0 130.8 L513.5 129.2 L517.7 123.7 L519.7 119.2 L521.8 121.7 L524.3 117.0 L526.3 119.2 L529.0 113.7 L531.8 111.7 L533.5 110.3 L535.7 115.3 L537.7 116.3 L540.7 120.8 L542.7 118.3 L544.7 113.7 L547.7 116.3 L550.2 120.8 L553.0 125.0 L555.2 124.7 L557.7 123.3 L559.3 125.8 L562.7 133.7 L565.2 121.3 L567.3 119.2 L569.3 115.0 L572.7 111.3 L576.0 109.2 L578.5 103.3 L581.0 100.8 L583.5 100.3 L585.7 104.2 L589.3 96.3 L592.7 92.2 L596.0 87.7 L598.5 87.7 L602.7 81.7 L606.8 82.2 L610.7 76.0 L613.0 76.0 L616.8 81.3 L619.8 88.8 L621.8 83.0 L624.3 81.3 L628.5 72.7 L633.5 73.3 L639.3 64.7 L642.7 63.8 L646.3 57.2 L649.3 63.0 L651.3 64.3 L653.5 70.0 L656.0 70.0 L660.2 55.5 L662.7 55.0 L665.0 67.2 L667.3 55.5 L671.8 49.7 L674.3 48.8 L678.5 43.8 L683.0 50.0 L685.7 37.2 L687.7 42.2 L694.3 31.7 L696.3 33.0 L699.0 40.0 L701.0 38.3 L703.0 39.7 L705.2 44.7 L710.2 31.3 L712.3 34.0 L714.1 34.6 L717.0 30.2 L719.2 35.8 L721.7 39.0 L724.2 47.5" fill="none" stroke="#1f2580" stroke-width="1.6" stroke-linejoin="round" stroke-linecap="round" clip-path="url(#c1)"/>
<line x1="139.0" x2="139.0" y1="24.5" y2="372.5" stroke="#d41c28" stroke-width="2.2" stroke-dasharray="2.8 1.5" opacity="0.85"/>
<line x1="139.0" x2="139.0" y1="372.5" y2="455.5" stroke="#d8202a" stroke-width="1.2" stroke-dasharray="2.7 1.3" opacity="0.9"/>
<line x1="406.2" x2="406.2" y1="24.5" y2="372.5" stroke="#d41c28" stroke-width="2.2" stroke-dasharray="2.8 1.5" opacity="0.85"/>
<line x1="406.2" x2="406.2" y1="372.5" y2="455.5" stroke="#d8202a" stroke-width="1.2" stroke-dasharray="2.7 1.3" opacity="0.9"/>
<line x1="437.8" x2="437.8" y1="24.5" y2="372.5" stroke="#d41c28" stroke-width="2.2" stroke-dasharray="2.8 1.5" opacity="0.85"/>
<line x1="437.8" x2="437.8" y1="372.5" y2="455.5" stroke="#d8202a" stroke-width="1.2" stroke-dasharray="2.7 1.3" opacity="0.9"/>
<line x1="489.8" x2="489.8" y1="24.5" y2="372.5" stroke="#d41c28" stroke-width="2.2" stroke-dasharray="2.8 1.5" opacity="0.85"/>
<line x1="489.8" x2="489.8" y1="372.5" y2="455.5" stroke="#d8202a" stroke-width="1.2" stroke-dasharray="2.7 1.3" opacity="0.9"/>
<line x1="565.0" x2="565.0" y1="24.5" y2="372.5" stroke="#d41c28" stroke-width="2.2" stroke-dasharray="2.8 1.5" opacity="0.85"/>
<line x1="565.0" x2="565.0" y1="372.5" y2="455.5" stroke="#d8202a" stroke-width="1.2" stroke-dasharray="2.7 1.3" opacity="0.9"/>
<rect x="14.5" y="24.5" width="716.0" height="209.0" fill="none" stroke="#9a9078"/>
<rect x="14.5" y="245.5" width="716.0" height="210.0" fill="none" stroke="#9a9078"/>
<line x1="14.5" x2="730.5" y1="372.5" y2="372.5" stroke="#888" />
<line x1="24.5" x2="24.5" y1="234" y2="236" stroke="#554" stroke-width="1"/>
<text x="24.5" y="243.3" font-family="Liberation Sans, Arial, sans-serif" font-size="9" text-anchor="middle" fill="#222">Apr</text>
<line x1="53.5" x2="53.5" y1="234" y2="236" stroke="#554" stroke-width="1"/>
<text x="53.5" y="243.3" font-family="Liberation Sans, Arial, sans-serif" font-size="9" text-anchor="middle" fill="#222">Jul</text>
<line x1="85.5" x2="85.5" y1="234" y2="236" stroke="#554" stroke-width="1"/>
<text x="85.5" y="243.3" font-family="Liberation Sans, Arial, sans-serif" font-size="9" text-anchor="middle" fill="#222">Oct</text>
<line x1="114.5" x2="114.5" y1="234" y2="236" stroke="#554" stroke-width="1"/>
<text x="114.5" y="243.3" font-family="Liberation Sans, Arial, sans-serif" font-size="9.6" font-weight="bold" text-anchor="middle" fill="#111">20</text>
<line x1="143.5" x2="143.5" y1="234" y2="236" stroke="#554" stroke-width="1"/>
<text x="143.5" y="243.3" font-family="Liberation Sans, Arial, sans-serif" font-size="9" text-anchor="middle" fill="#222">Apr</text>
<line x1="172.5" x2="172.5" y1="234" y2="236" stroke="#554" stroke-width="1"/>
<text x="172.5" y="243.3" font-family="Liberation Sans, Arial, sans-serif" font-size="9" text-anchor="middle" fill="#222">Jul</text>
<line x1="202.5" x2="202.5" y1="234" y2="236" stroke="#554" stroke-width="1"/>
<text x="202.5" y="243.3" font-family="Liberation Sans, Arial, sans-serif" font-size="9" text-anchor="middle" fill="#222">Oct</text>
<line x1="231.5" x2="231.5" y1="234" y2="236" stroke="#554" stroke-width="1"/>
<text x="231.5" y="243.3" font-family="Liberation Sans, Arial, sans-serif" font-size="9.6" font-weight="bold" text-anchor="middle" fill="#111">21</text>
<line x1="261.5" x2="261.5" y1="234" y2="236" stroke="#554" stroke-width="1"/>
<text x="261.5" y="243.3" font-family="Liberation Sans, Arial, sans-serif" font-size="9" text-anchor="middle" fill="#222">Apr</text>
<line x1="290.5" x2="290.5" y1="234" y2="236" stroke="#554" stroke-width="1"/>
<text x="290.5" y="243.3" font-family="Liberation Sans, Arial, sans-serif" font-size="9" text-anchor="middle" fill="#222">Jul</text>
<line x1="321.5" x2="321.5" y1="234" y2="236" stroke="#554" stroke-width="1"/>
<text x="321.5" y="243.3" font-family="Liberation Sans, Arial, sans-serif" font-size="9" text-anchor="middle" fill="#222">Oct</text>
<line x1="350.5" x2="350.5" y1="234" y2="236" stroke="#554" stroke-width="1"/>
<text x="350.5" y="243.3" font-family="Liberation Sans, Arial, sans-serif" font-size="9.6" font-weight="bold" text-anchor="middle" fill="#111">22</text>
<line x1="379.5" x2="379.5" y1="234" y2="236" stroke="#554" stroke-width="1"/>
<text x="379.5" y="243.3" font-family="Liberation Sans, Arial, sans-serif" font-size="9" text-anchor="middle" fill="#222">Apr</text>
<line x1="408.5" x2="408.5" y1="234" y2="236" stroke="#554" stroke-width="1"/>
<text x="408.5" y="243.3" font-family="Liberation Sans, Arial, sans-serif" font-size="9" text-anchor="middle" fill="#222">Jul</text>
<line x1="439.5" x2="439.5" y1="234" y2="236" stroke="#554" stroke-width="1"/>
<text x="439.5" y="243.3" font-family="Liberation Sans, Arial, sans-serif" font-size="9" text-anchor="middle" fill="#222">Oct</text>
<line x1="467.5" x2="467.5" y1="234" y2="236" stroke="#554" stroke-width="1"/>
<text x="467.5" y="243.3" font-family="Liberation Sans, Arial, sans-serif" font-size="9.6" font-weight="bold" text-anchor="middle" fill="#111">23</text>
<line x1="497.5" x2="497.5" y1="234" y2="236" stroke="#554" stroke-width="1"/>
<text x="497.5" y="243.3" font-family="Liberation Sans, Arial, sans-serif" font-size="9" text-anchor="middle" fill="#222">Apr</text>
<line x1="526.5" x2="526.5" y1="234" y2="236" stroke="#554" stroke-width="1"/>
<text x="526.5" y="243.3" font-family="Liberation Sans, Arial, sans-serif" font-size="9" text-anchor="middle" fill="#222">Jul</text>
<line x1="557.5" x2="557.5" y1="234" y2="236" stroke="#554" stroke-width="1"/>
<text x="557.5" y="243.3" font-family="Liberation Sans, Arial, sans-serif" font-size="9" text-anchor="middle" fill="#222">Oct</text>
<line x1="585.5" x2="585.5" y1="234" y2="236" stroke="#554" stroke-width="1"/>
<text x="585.5" y="243.3" font-family="Liberation Sans, Arial, sans-serif" font-size="9.6" font-weight="bold" text-anchor="middle" fill="#111">24</text>
<line x1="614.5" x2="614.5" y1="234" y2="236" stroke="#554" stroke-width="1"/>
<text x="614.5" y="243.3" font-family="Liberation Sans, Arial, sans-serif" font-size="9" text-anchor="middle" fill="#222">Apr</text>
<line x1="644.5" x2="644.5" y1="234" y2="236" stroke="#554" stroke-width="1"/>
<text x="644.5" y="243.3" font-family="Liberation Sans, Arial, sans-serif" font-size="9" text-anchor="middle" fill="#222">Jul</text>
<line x1="676.5" x2="676.5" y1="234" y2="236" stroke="#554" stroke-width="1"/>
<text x="676.5" y="243.3" font-family="Liberation Sans, Arial, sans-serif" font-size="9" text-anchor="middle" fill="#222">Oct</text>
<line x1="705.5" x2="705.5" y1="234" y2="236" stroke="#554" stroke-width="1"/>
<text x="705.5" y="243.3" font-family="Liberation Sans, Arial, sans-serif" font-size="9.6" font-weight="bold" text-anchor="middle" fill="#111">25</text>
<line x1="24.5" x2="24.5" y1="456" y2="458" stroke="#554" stroke-width="1"/>
<text x="24.5" y="465.3" font-family="Liberation Sans, Arial, sans-serif" font-size="9" text-anchor="middle" fill="#222">Apr</text>
<line x1="53.5" x2="53.5" y1="456" y2="458" stroke="#554" stroke-width="1"/>
<text x="53.5" y="465.3" font-family="Liberation Sans, Arial, sans-serif" font-size="9" text-anchor="middle" fill="#222">Jul</text>
<line x1="85.5" x2="85.5" y1="456" y2="458" stroke="#554" stroke-width="1"/>
<text x="85.5" y="465.3" font-family="Liberation Sans, Arial, sans-serif" font-size="9" text-anchor="middle" fill="#222">Oct</text>
<line x1="114.5" x2="114.5" y1="456" y2="458" stroke="#554" stroke-width="1"/>
<text x="114.5" y="465.3" font-family="Liberation Sans, Arial, sans-serif" font-size="9.6" font-weight="bold" text-anchor="middle" fill="#111">20</text>
<line x1="143.5" x2="143.5" y1="456" y2="458" stroke="#554" stroke-width="1"/>
<text x="143.5" y="465.3" font-family="Liberation Sans, Arial, sans-serif" font-size="9" text-anchor="middle" fill="#222">Apr</text>
<line x1="172.5" x2="172.5" y1="456" y2="458" stroke="#554" stroke-width="1"/>
<text x="172.5" y="465.3" font-family="Liberation Sans, Arial, sans-serif" font-size="9" text-anchor="middle" fill="#222">Jul</text>
<line x1="202.5" x2="202.5" y1="456" y2="458" stroke="#554" stroke-width="1"/>
<text x="202.5" y="465.3" font-family="Liberation Sans, Arial, sans-serif" font-size="9" text-anchor="middle" fill="#222">Oct</text>
<line x1="231.5" x2="231.5" y1="456" y2="458" stroke="#554" stroke-width="1"/>
<text x="231.5" y="465.3" font-family="Liberation Sans, Arial, sans-serif" font-size="9.6" font-weight="bold" text-anchor="middle" fill="#111">21</text>
<line x1="261.5" x2="261.5" y1="456" y2="458" stroke="#554" stroke-width="1"/>
<text x="261.5" y="465.3" font-family="Liberation Sans, Arial, sans-serif" font-size="9" text-anchor="middle" fill="#222">Apr</text>
<line x1="290.5" x2="290.5" y1="456" y2="458" stroke="#554" stroke-width="1"/>
<text x="290.5" y="465.3" font-family="Liberation Sans, Arial, sans-serif" font-size="9" text-anchor="middle" fill="#222">Jul</text>
<line x1="321.5" x2="321.5" y1="456" y2="458" stroke="#554" stroke-width="1"/>
<text x="321.5" y="465.3" font-family="Liberation Sans, Arial, sans-serif" font-size="9" text-anchor="middle" fill="#222">Oct</text>
<line x1="350.5" x2="350.5" y1="456" y2="458" stroke="#554" stroke-width="1"/>
<text x="350.5" y="465.3" font-family="Liberation Sans, Arial, sans-serif" font-size="9.6" font-weight="bold" text-anchor="middle" fill="#111">22</text>
<line x1="379.5" x2="379.5" y1="456" y2="458" stroke="#554" stroke-width="1"/>
<text x="379.5" y="465.3" font-family="Liberation Sans, Arial, sans-serif" font-size="9" text-anchor="middle" fill="#222">Apr</text>
<line x1="408.5" x2="408.5" y1="456" y2="458" stroke="#554" stroke-width="1"/>
<text x="408.5" y="465.3" font-family="Liberation Sans, Arial, sans-serif" font-size="9" text-anchor="middle" fill="#222">Jul</text>
<line x1="439.5" x2="439.5" y1="456" y2="458" stroke="#554" stroke-width="1"/>
<text x="439.5" y="465.3" font-family="Liberation Sans, Arial, sans-serif" font-size="9" text-anchor="middle" fill="#222">Oct</text>
<line x1="467.5" x2="467.5" y1="456" y2="458" stroke="#554" stroke-width="1"/>
<text x="467.5" y="465.3" font-family="Liberation Sans, Arial, sans-serif" font-size="9.6" font-weight="bold" text-anchor="middle" fill="#111">23</text>
<line x1="497.5" x2="497.5" y1="456" y2="458" stroke="#554" stroke-width="1"/>
<text x="497.5" y="465.3" font-family="Liberation Sans, Arial, sans-serif" font-size="9" text-anchor="middle" fill="#222">Apr</text>
<line x1="526.5" x2="526.5" y1="456" y2="458" stroke="#554" stroke-width="1"/>
<text x="526.5" y="465.3" font-family="Liberation Sans, Arial, sans-serif" font-size="9" text-anchor="middle" fill="#222">Jul</text>
<line x1="557.5" x2="557.5" y1="456" y2="458" stroke="#554" stroke-width="1"/>
<text x="557.5" y="465.3" font-family="Liberation Sans, Arial, sans-serif" font-size="9" text-anchor="middle" fill="#222">Oct</text>
<line x1="585.5" x2="585.5" y1="456" y2="458" stroke="#554" stroke-width="1"/>
<text x="585.5" y="465.3" font-family="Liberation Sans, Arial, sans-serif" font-size="9.6" font-weight="bold" text-anchor="middle" fill="#111">24</text>
<line x1="614.5" x2="614.5" y1="456" y2="458" stroke="#554" stroke-width="1"/>
<text x="614.5" y="465.3" font-family="Liberation Sans, Arial, sans-serif" font-size="9" text-anchor="middle" fill="#222">Apr</text>
<line x1="644.5" x2="644.5" y1="456" y2="458" stroke="#554" stroke-width="1"/>
<text x="644.5" y="465.3" font-family="Liberation Sans, Arial, sans-serif" font-size="9" text-anchor="middle" fill="#222">Jul</text>
<line x1="676.5" x2="676.5" y1="456" y2="458" stroke="#554" stroke-width="1"/>
<text x="676.5" y="465.3" font-family="Liberation Sans, Arial, sans-serif" font-size="9" text-anchor="middle" fill="#222">Oct</text>
<line x1="705.5" x2="705.5" y1="456" y2="458" stroke="#554" stroke-width="1"/>
<text x="705.5" y="465.3" font-family="Liberation Sans, Arial, sans-serif" font-size="9.6" font-weight="bold" text-anchor="middle" fill="#111">25</text>
<line x1="730.5" x2="733.0" y1="231.9" y2="231.9" stroke="#554" stroke-width="1"/>
<text x="733.8" y="233.6" font-family="Liberation Sans, Arial, sans-serif" font-size="9.2" fill="#222">2250</text>
<line x1="730.5" x2="733.0" y1="218.5" y2="218.5" stroke="#554" stroke-width="1"/>
<text x="733.8" y="221.9" font-family="Liberation Sans, Arial, sans-serif" font-size="9.2" fill="#222">2500</text>
<line x1="730.5" x2="733.0" y1="205.5" y2="205.5" stroke="#554" stroke-width="1"/>
<text x="733.8" y="208.9" font-family="Liberation Sans, Arial, sans-serif" font-size="9.2" fill="#222">2750</text>
<line x1="730.5" x2="733.0" y1="192.5" y2="192.5" stroke="#554" stroke-width="1"/>
<text x="733.8" y="195.8" font-family="Liberation Sans, Arial, sans-serif" font-size="9.2" fill="#222">3000</text>
<line x1="730.5" x2="733.0" y1="179.5" y2="179.5" stroke="#554" stroke-width="1"/>
<text x="733.8" y="182.8" font-family="Liberation Sans, Arial, sans-serif" font-size="9.2" fill="#222">3250</text>
<line x1="730.5" x2="733.0" y1="166.5" y2="166.5" stroke="#554" stroke-width="1"/>
<text x="733.8" y="169.8" font-family="Liberation Sans, Arial, sans-serif" font-size="9.2" fill="#222">3500</text>
<line x1="730.5" x2="733.0" y1="153.5" y2="153.5" stroke="#554" stroke-width="1"/>
<text x="733.8" y="156.7" font-family="Liberation Sans, Arial, sans-serif" font-size="9.2" fill="#222">3750</text>
<line x1="730.5" x2="733.0" y1="140.5" y2="140.5" stroke="#554" stroke-width="1"/>
<text x="733.8" y="143.7" font-family="Liberation Sans, Arial, sans-serif" font-size="9.2" fill="#222">4000</text>
<line x1="730.5" x2="733.0" y1="127.5" y2="127.5" stroke="#554" stroke-width="1"/>
<text x="733.8" y="130.7" font-family="Liberation Sans, Arial, sans-serif" font-size="9.2" fill="#222">4250</text>
<line x1="730.5" x2="733.0" y1="114.5" y2="114.5" stroke="#554" stroke-width="1"/>
<text x="733.8" y="117.7" font-family="Liberation Sans, Arial, sans-serif" font-size="9.2" fill="#222">4500</text>
<line x1="730.5" x2="733.0" y1="101.5" y2="101.5" stroke="#554" stroke-width="1"/>
<text x="733.8" y="104.6" font-family="Liberation Sans, Arial, sans-serif" font-size="9.2" fill="#222">4750</text>
<line x1="730.5" x2="733.0" y1="88.5" y2="88.5" stroke="#554" stroke-width="1"/>
<text x="733.8" y="91.6" font-family="Liberation Sans, Arial, sans-serif" font-size="9.2" fill="#222">5000</text>
<line x1="730.5" x2="733.0" y1="75.5" y2="75.5" stroke="#554" stroke-width="1"/>
<text x="733.8" y="78.6" font-family="Liberation Sans, Arial, sans-serif" font-size="9.2" fill="#222">5250</text>
<line x1="730.5" x2="733.0" y1="62.5" y2="62.5" stroke="#554" stroke-width="1"/>
<text x="733.8" y="65.6" font-family="Liberation Sans, Arial, sans-serif" font-size="9.2" fill="#222">5500</text>
<line x1="730.5" x2="733.0" y1="36.5" y2="36.5" stroke="#554" stroke-width="1"/>
<text x="733.8" y="39.5" font-family="Liberation Sans, Arial, sans-serif" font-size="9.2" fill="#222">6000</text>
<line x1="730.5" x2="733.0" y1="249.5" y2="249.5" stroke="#554" stroke-width="1"/>
<text x="736.2" y="252.2" font-family="Liberation Sans, Arial, sans-serif" font-size="9.2" fill="#222">60</text>
<line x1="730.5" x2="733.0" y1="268.5" y2="268.5" stroke="#554" stroke-width="1"/>
<text x="736.2" y="271.5" font-family="Liberation Sans, Arial, sans-serif" font-size="9.2" fill="#222">40</text>
<line x1="730.5" x2="733.0" y1="307.5" y2="307.5" stroke="#554" stroke-width="1"/>
<text x="741.6" y="310.2" font-family="Liberation Sans, Arial, sans-serif" font-size="9.2" fill="#222">0</text>
<line x1="730.5" x2="733.0" y1="326.5" y2="326.5" stroke="#554" stroke-width="1"/>
<text x="735.7" y="329.5" font-family="Liberation Sans, Arial, sans-serif" font-size="9.2" fill="#222">-20</text>
<line x1="730.5" x2="733.0" y1="345.5" y2="345.5" stroke="#554" stroke-width="1"/>
<text x="735.7" y="348.9" font-family="Liberation Sans, Arial, sans-serif" font-size="9.2" fill="#222">-40</text>
<line x1="730.5" x2="733.0" y1="387.5" y2="387.5" stroke="#554" stroke-width="1"/>
<text x="734.4" y="390.5" font-family="Liberation Sans, Arial, sans-serif" font-size="9.2" fill="#222">2.5</text>
<line x1="730.5" x2="733.0" y1="401.5" y2="401.5" stroke="#554" stroke-width="1"/>
<text x="734.4" y="404.5" font-family="Liberation Sans, Arial, sans-serif" font-size="9.2" fill="#222">2.0</text>
<line x1="730.5" x2="733.0" y1="415.5" y2="415.5" stroke="#554" stroke-width="1"/>
<text x="734.4" y="418.5" font-family="Liberation Sans, Arial, sans-serif" font-size="9.2" fill="#222">1.5</text>
<line x1="730.5" x2="733.0" y1="429.5" y2="429.5" stroke="#554" stroke-width="1"/>
<text x="734.4" y="432.5" font-family="Liberation Sans, Arial, sans-serif" font-size="9.2" fill="#222">1.0</text>
<line x1="730.5" x2="733.0" y1="443.5" y2="443.5" stroke="#554" stroke-width="1"/>
<text x="734.4" y="446.5" font-family="Liberation Sans, Arial, sans-serif" font-size="9.2" fill="#222">0.5</text>
<path d="M730.5 26.08h1.5M730.5 28.68h1.5M730.5 31.29h1.5M730.5 33.89h1.5M730.5 36.50h1.5M730.5 39.11h1.5M730.5 41.71h1.5M730.5 44.32h1.5M730.5 46.92h1.5M730.5 49.53h1.5M730.5 52.14h1.5M730.5 54.74h1.5M730.5 57.35h1.5M730.5 59.95h1.5M730.5 62.56h1.5M730.5 65.17h1.5M730.5 67.77h1.5M730.5 70.38h1.5M730.5 72.98h1.5M730.5 75.59h1.5M730.5 78.20h1.5M730.5 80.80h1.5M730.5 83.41h1.5M730.5 86.01h1.5M730.5 88.62h1.5M730.5 91.23h1.5M730.5 93.83h1.5M730.5 96.44h1.5M730.5 99.04h1.5M730.5 101.65h1.5M730.5 104.26h1.5M730.5 106.86h1.5M730.5 109.47h1.5M730.5 112.07h1.5M730.5 114.68h1.5M730.5 117.29h1.5M730.5 119.89h1.5M730.5 122.50h1.5M730.5 125.10h1.5M730.5 127.71h1.5M730.5 130.32h1.5M730.5 132.92h1.5M730.5 135.53h1.5M730.5 138.13h1.5M730.5 140.74h1.5M730.5 143.35h1.5M730.5 145.95h1.5M730.5 148.56h1.5M730.5 151.16h1.5M730.5 153.77h1.5M730.5 156.38h1.5M730.5 158.98h1.5M730.5 161.59h1.5M730.5 164.19h1.5M730.5 166.80h1.5M730.5 169.41h1.5M730.5 172.01h1.5M730.5 174.62h1.5M730.5 177.22h1.5M730.5 179.83h1.5M730.5 182.44h1.5M730.5 185.04h1.5M730.5 187.65h1.5M730.5 190.25h1.5M730.5 192.86h1.5M730.5 195.47h1.5M730.5 198.07h1.5M730.5 200.68h1.5M730.5 203.28h1.5M730.5 205.89h1.5M730.5 208.50h1.5M730.5 211.10h1.5M730.5 213.71h1.5M730.5 216.31h1.5M730.5 218.92h1.5M730.5 221.53h1.5M730.5 224.13h1.5M730.5 226.74h1.5M730.5 229.34h1.5M730.5 231.95h1.5" stroke="#776" stroke-width="0.8" fill="none"/>
<path d="M730.5 245.64h1.5M730.5 249.51h1.5M730.5 253.38h1.5M730.5 257.24h1.5M730.5 261.11h1.5M730.5 264.97h1.5M730.5 268.84h1.5M730.5 272.71h1.5M730.5 276.57h1.5M730.5 280.44h1.5M730.5 284.30h1.5M730.5 288.17h1.5M730.5 292.04h1.5M730.5 295.90h1.5M730.5 299.77h1.5M730.5 303.63h1.5M730.5 307.50h1.5M730.5 311.37h1.5M730.5 315.23h1.5M730.5 319.10h1.5M730.5 322.96h1.5M730.5 326.83h1.5M730.5 330.70h1.5M730.5 334.56h1.5M730.5 338.43h1.5M730.5 342.29h1.5M730.5 346.16h1.5M730.5 350.03h1.5M730.5 353.89h1.5M730.5 357.76h1.5M730.5 361.62h1.5M730.5 365.49h1.5M730.5 369.36h1.5" stroke="#776" stroke-width="0.8" fill="none"/>
<path d="M730.5 373.50h1.5M730.5 376.30h1.5M730.5 379.10h1.5M730.5 381.90h1.5M730.5 384.70h1.5M730.5 387.50h1.5M730.5 390.30h1.5M730.5 393.10h1.5M730.5 395.90h1.5M730.5 398.70h1.5M730.5 401.50h1.5M730.5 404.30h1.5M730.5 407.10h1.5M730.5 409.90h1.5M730.5 412.70h1.5M730.5 415.50h1.5M730.5 418.30h1.5M730.5 421.10h1.5M730.5 423.90h1.5M730.5 426.70h1.5M730.5 429.50h1.5M730.5 432.30h1.5M730.5 435.10h1.5M730.5 437.90h1.5M730.5 440.70h1.5M730.5 443.50h1.5M730.5 446.30h1.5M730.5 449.10h1.5M730.5 451.90h1.5M730.5 454.70h1.5" stroke="#776" stroke-width="0.8" fill="none"/>
<path d="M729.6 47.6L733.2 43.1H767.5V52.1H733.2Z" fill="#fff" stroke="#2a2a88" stroke-width="1"/>
<text x="733.4" y="50.8" font-family="Liberation Sans, Arial, sans-serif" font-size="8.9" font-weight="bold" fill="#111" textLength="32.3" lengthAdjust="spacingAndGlyphs">5770.20</text>
<path d="M729.6 287.5L733.2 283.0H758.2V292.0H733.2Z" fill="#fff" stroke="#555" stroke-width="1"/>
<text x="734.3" y="290.7" font-family="Liberation Sans, Arial, sans-serif" font-size="8.9" font-weight="normal" fill="#111" textLength="20.7" lengthAdjust="spacingAndGlyphs">19.30</text>
<path d="M729.6 361.3L733.2 356.8H759.8V365.8H733.2Z" fill="#fff" stroke="#555" stroke-width="1"/>
<text x="733.1" y="364.5" font-family="Liberation Sans, Arial, sans-serif" font-size="8.9" font-weight="normal" fill="#111" textLength="24.7" lengthAdjust="spacingAndGlyphs">-57.10</text>
<path d="M729.6 447.7L733.2 443.2H752.6V452.2H733.2Z" fill="#fff" stroke="#8844cc" stroke-width="1"/>
<text x="732.8" y="450.9" font-family="Liberation Sans, Arial, sans-serif" font-size="8.9" font-weight="bold" fill="#111" textLength="17.5" lengthAdjust="spacingAndGlyphs">0.34</text>
<text x="13.8" y="12" font-family="Liberation Sans, Arial, sans-serif" font-size="12.4" font-weight="bold" fill="#111" textLength="27.8" lengthAdjust="spacingAndGlyphs">$SPX</text>
<text x="45.5" y="11.9" font-family="Liberation Sans, Arial, sans-serif" font-size="10.2" fill="#1a1a1a" textLength="104.5" lengthAdjust="spacingAndGlyphs">S&amp;P 500 Large Cap Index</text>
<text x="154.8" y="11.9" font-family="Liberation Sans, Arial, sans-serif" font-size="8.5" fill="#1a1a1a" textLength="19.6" lengthAdjust="spacingAndGlyphs">INDX</text>
<text x="14" y="21.8" font-family="Liberation Sans, Arial, sans-serif" font-size="8.8" fill="#222" textLength="45" lengthAdjust="spacingAndGlyphs">7-Mar-2025</text>
<text x="308.5" y="21.8" font-family="Liberation Sans, Arial, sans-serif" font-size="9.7" font-weight="bold" fill="#111" textLength="24.4" lengthAdjust="spacingAndGlyphs">Open</text>
<text x="336" y="21.8" font-family="Liberation Sans, Arial, sans-serif" font-size="9.1" font-weight="normal" fill="#111" textLength="33.4" lengthAdjust="spacingAndGlyphs">5968.33</text>
<text x="374.1" y="21.8" font-family="Liberation Sans, Arial, sans-serif" font-size="9.7" font-weight="bold" fill="#111" textLength="20.3" lengthAdjust="spacingAndGlyphs">High</text>
<text x="397.6" y="21.8" font-family="Liberation Sans, Arial, sans-serif" font-size="9.1" font-weight="normal" fill="#111" textLength="32.8" lengthAdjust="spacingAndGlyphs">5986.09</text>
<text x="435.7" y="21.8" font-family="Liberation Sans, Arial, sans-serif" font-size="9.7" font-weight="bold" fill="#111" textLength="19.7" lengthAdjust="spacingAndGlyphs">Low</text>
<text x="458.5" y="21.8" font-family="Liberation Sans, Arial, sans-serif" font-size="9.1" font-weight="normal" fill="#111" textLength="32.8" lengthAdjust="spacingAndGlyphs">5666.29</text>
<text x="497" y="21.8" font-family="Liberation Sans, Arial, sans-serif" font-size="9.7" font-weight="bold" fill="#111" textLength="26.5" lengthAdjust="spacingAndGlyphs">Close</text>
<text x="527" y="21.8" font-family="Liberation Sans, Arial, sans-serif" font-size="9.1" font-weight="normal" fill="#111" textLength="32.8" lengthAdjust="spacingAndGlyphs">5770.20</text>
<text x="566" y="21.8" font-family="Liberation Sans, Arial, sans-serif" font-size="9.7" font-weight="bold" fill="#111" textLength="35.0" lengthAdjust="spacingAndGlyphs">Volume</text>
<text x="606.6" y="21.8" font-family="Liberation Sans, Arial, sans-serif" font-size="9.1" font-weight="normal" fill="#111" textLength="21.3" lengthAdjust="spacingAndGlyphs">18.5B</text>
<text x="634.1" y="21.8" font-family="Liberation Sans, Arial, sans-serif" font-size="9.7" font-weight="bold" fill="#111" textLength="17.9" lengthAdjust="spacingAndGlyphs">Chg</text>
<text x="655" y="21.8" font-family="Liberation Sans, Arial, sans-serif" font-size="9.1" font-weight="normal" fill="#111" textLength="67.3" lengthAdjust="spacingAndGlyphs">-184.30 (-3.10%)</text>
<path d="M724.6 17.6h6.4l-3.2 3.6z" fill="#cc2222"/>
<text x="654.4" y="10.8" font-family="Liberation Sans, Arial, sans-serif" font-size="9.2" fill="#6a5a3c" textLength="76.6" lengthAdjust="spacingAndGlyphs">© StockCharts.com</text>
<line x1="17" x2="24" y1="30.5" y2="30.5" stroke="#1f2580" stroke-width="1.6"/>
<text x="26" y="34" font-family="DejaVu Sans, Verdana, sans-serif" font-size="8.4" fill="#222" textLength="212" lengthAdjust="spacing">S&amp;P 500 Large Cap Index (Weekly) 5770.20</text>
<path d="M17 254.5v-3.5h1.6v3.5zM19 254.5v-6.5h1.6v6.5zM21 254.5v-5h1.6v5zM23 254.5v-4.5h1.3v4.5z" fill="#2a5a32"/>
<text x="26.5" y="255" font-family="DejaVu Sans, Verdana, sans-serif" font-size="8.4" fill="#222" textLength="76" lengthAdjust="spacing">AAII Bulls 19.30</text>
<text x="16.5" y="370" font-family="DejaVu Sans, Verdana, sans-serif" font-size="8.4" fill="#222" textLength="85" lengthAdjust="spacing">AAII Bears -57.10</text>
<path d="M17 381v-3.5h1.6v3.5zM19 381v-6.5h1.6v6.5zM21 381v-5h1.6v5zM23 381v-4.5h1.3v4.5z" fill="#8a44dd"/>
<text x="26.5" y="381.5" font-family="DejaVu Sans, Verdana, sans-serif" font-size="8.4" fill="#222" textLength="124" lengthAdjust="spacing">AAII Bulls/AAII Bears 0.34</text>
<rect x="416.5" y="58.8" width="47.80000000000001" height="21.900000000000006" rx="1.5" fill="#777" opacity="0.6" filter="url(#sh)"/>
<rect x="415" y="57.3" width="47.80000000000001" height="21.900000000000006" rx="1.5" fill="#fff" stroke="#9a9a9a" stroke-width="1"/>
<text x="417.9" y="73.0" font-family="Liberation Sans, Arial, sans-serif" font-size="14" font-weight="bold" fill="#111" textLength="35" lengthAdjust="spacingAndGlyphs">$SPX</text>
<rect x="387.9" y="253.0" width="58.0" height="21.30000000000001" rx="1.5" fill="#777" opacity="0.6" filter="url(#sh)"/>
<rect x="386.4" y="251.5" width="58.0" height="21.30000000000001" rx="1.5" fill="#fff" stroke="#9a9a9a" stroke-width="1"/>
<text x="388.6" y="266.79999999999995" font-family="Liberation Sans, Arial, sans-serif" font-size="14" font-weight="bold" fill="#111" textLength="44.4" lengthAdjust="spacingAndGlyphs">Bullish</text>
<rect x="585.1" y="351.0" width="64.69999999999993" height="21.899999999999977" rx="1.5" fill="#777" opacity="0.6" filter="url(#sh)"/>
<rect x="583.6" y="349.5" width="64.69999999999993" height="21.899999999999977" rx="1.5" fill="#fff" stroke="#9a9a9a" stroke-width="1"/>
<text x="585.5" y="364.9" font-family="Liberation Sans, Arial, sans-serif" font-size="14" font-weight="bold" fill="#111" textLength="50.8" lengthAdjust="spacingAndGlyphs">Bearish</text>
<rect x="390.0" y="387.0" width="114.39999999999998" height="21.69999999999999" rx="1.5" fill="#777" opacity="0.6" filter="url(#sh)"/>
<rect x="388.5" y="385.5" width="114.39999999999998" height="21.69999999999999" rx="1.5" fill="#fff" stroke="#9a9a9a" stroke-width="1"/>
<text x="391" y="401.4" font-family="Liberation Sans, Arial, sans-serif" font-size="14" font-weight="bold" fill="#111" textLength="100.2" lengthAdjust="spacingAndGlyphs">Bull/Bear Ratio</text>
</svg>
</body></html>
